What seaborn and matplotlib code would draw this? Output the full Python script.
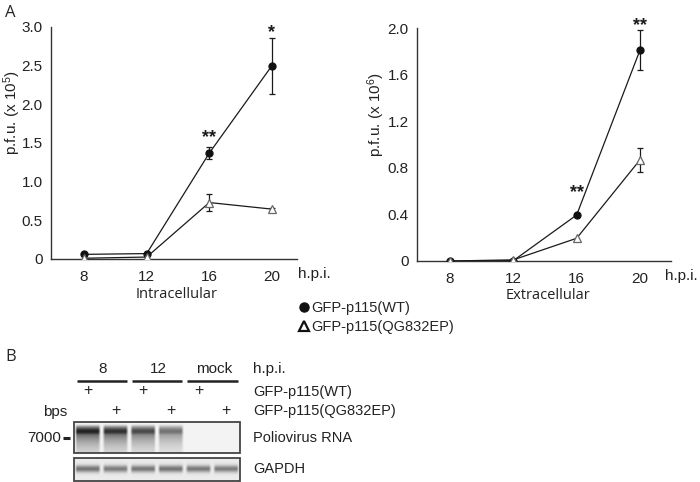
import numpy as np
import pandas as pd
import matplotlib
matplotlib.use("Agg")
import matplotlib.pyplot as plt
from matplotlib.lines import Line2D
from matplotlib.patches import Rectangle
from matplotlib import font_manager
import seaborn as sns

# ---------------- data ----------------
hpi = [8, 12, 16, 20]
hpi_ticks = ["8", "12", "16", "20"]

intra_wt = [0.06, 0.07, 1.37, 2.50]
intra_wt_err = [0.0, 0.0, 0.075, 0.36]
intra_qg = [0.01, 0.025, 0.73, 0.645]
intra_qg_err = [0.0, 0.0, 0.115, 0.02]
intra_stars = [(16, "**", 1.65), (20, "*", 3.01)]
intra_yticks = [0, 0.5, 1.0, 1.5, 2.0, 2.5, 3.0]
intra_yticklabels = ["0", "0.5", "1.0", "1.5", "2.0", "2.5", "3.0"]

extra_wt = [0.0, 0.003, 0.395, 1.81]
extra_wt_err = [0.0, 0.0, 0.0, 0.17]
extra_qg = [0.0, 0.01, 0.195, 0.868]
extra_qg_err = [0.0, 0.0, 0.0, 0.10]
extra_stars = [(16, "**", 0.64), (20, "**", 2.07)]
extra_yticks = [0, 0.4, 0.8, 1.2, 1.6, 2.0]
extra_yticklabels = ["0", "0.4", "0.8", "1.2", "1.6", "2.0"]

series_labels = ["GFP-p115(WT)", "GFP-p115(QG832EP)"]

# panel B
group_labels = ["8", "12", "mock"]
wt_plus = [1, 0, 1, 0, 1, 0]
qg_plus = [0, 1, 0, 1, 0, 1]
polio_signal = [0.82, 0.76, 0.66, 0.50, 0.0, 0.0]
gapdh_signal = [0.80, 0.74, 0.78, 0.80, 0.76, 0.74]
row_labels = ["GFP-p115(WT)", "GFP-p115(QG832EP)"]
blot_labels = ["Poliovirus RNA", "GAPDH"]
marker_label = "7000"

# ---------------- style ----------------
sns.set_style("white")
plt.rcParams["font.family"] = ["Liberation Sans", "DejaVu Sans"]
plt.rcParams["mathtext.default"] = "regular"
names = {f.name for f in font_manager.fontManager.ttflist}
NARROW = ["Liberation Sans Narrow", "DejaVu Sans"] if "Liberation Sans Narrow" in names else ["Liberation Sans", "DejaVu Sans"]
MYR = ["Open Sans", "DejaVu Sans"]

W, H = 700, 482
fig = plt.figure(figsize=(7, 4.82), dpi=100)


def px_axes(x0, y0, x1, y1):
    return fig.add_axes([x0 / W, 1 - y1 / H, (x1 - x0) / W, (y1 - y0) / H])


def growth_panel(ax, wt, wt_err, qg, qg_err, stars, yticks, yticklabels, ylim,
                 xlim, ylabel, xlabel, ylab_xy, xlab_xy, hpi_x):
    df_wt = pd.DataFrame({"hpi": hpi, "v": wt})
    df_qg = pd.DataFrame({"hpi": hpi, "v": qg})
    for vals, errs in ((wt, wt_err), (qg, qg_err)):
        xs = [h for h, e in zip(hpi, errs) if e > 0]
        ys = [v for v, e in zip(vals, errs) if e > 0]
        es = [e for e in errs if e > 0]
        if xs:
            ax.errorbar(xs, ys, yerr=es, fmt="none", ecolor="#1a1a1a",
                        elinewidth=0.9, capsize=2.2, capthick=0.9, zorder=2)
    sns.lineplot(data=df_wt, x="hpi", y="v", ax=ax, color="#1a1a1a", lw=0.9,
                 marker="o", markersize=5.2, markerfacecolor="#111111",
                 markeredgecolor="#111111", zorder=3)
    sns.lineplot(data=df_qg, x="hpi", y="v", ax=ax, color="#1a1a1a", lw=0.9,
                 marker="^", markersize=5.2, markerfacecolor="white",
                 markeredgecolor="#666666", markeredgewidth=0.9, zorder=4)
    for x, s, y in stars:
        ax.annotate(s, (x, y), xytext=(0, -7.5), textcoords="offset points",
                    ha="center", va="baseline", fontsize=13, fontweight="bold",
                    color="#1a1a1a", annotation_clip=False)
    ax.set_xlim(*xlim)
    ax.set_ylim(*ylim)
    ax.set_xticks(hpi)
    ax.set_xticklabels(hpi_ticks)
    ax.set_yticks(yticks)
    ax.set_yticklabels(yticklabels)
    for sp in ("top", "right"):
        ax.spines[sp].set_visible(False)
    for sp in ("left", "bottom"):
        ax.spines[sp].set_color("#333333")
        ax.spines[sp].set_linewidth(1.0)
    ax.tick_params(axis="y", direction="out", length=3, width=0.9,
                   colors="#333333", labelcolor="#222222", labelsize=11, pad=3)
    ax.tick_params(axis="x", length=0, labelsize=11, labelcolor="#222222", pad=8)
    ax.set_ylabel(ylabel, fontsize=11, color="#222222")
    ax.yaxis.set_label_coords(*ylab_xy)
    ax.set_xlabel(xlabel, fontsize=10.5, family=MYR, color="#222222", va="center")
    ax.xaxis.set_label_coords(*xlab_xy)
    ax.text(hpi_x, -0.035, "h.p.i.", transform=ax.transAxes, fontsize=11,
            color="#222222", ha="left", va="top")


# left panel (x 51..297, y 27..259)
axL = px_axes(51, 27, 297, 259)
growth_panel(axL, intra_wt, intra_wt_err, intra_qg, intra_qg_err, intra_stars,
             intra_yticks, intra_yticklabels, (0, 3.0), (5.89, 21.6),
             "p.f.u. (x 10$^{5}$)", "Intracellular", (-0.115, 0.63), (0.512, -0.155),
             1.005)

# right panel (x 417..671, y 28..261)
axR = px_axes(417, 28, 671, 261)
growth_panel(axR, extra_wt, extra_wt_err, extra_qg, extra_qg_err, extra_stars,
             extra_yticks, extra_yticklabels, (0, 2.0), (5.915, 21.96),
             "p.f.u. (x 10$^{6}$)", "Extracellular", (-0.118, 0.627), (0.516, -0.146),
             0.975)

# legend
handles = [Line2D([], [], ls="", marker="o", color="#111111", markersize=6.5),
           Line2D([], [], ls="", marker="^", markerfacecolor="white",
                  markeredgecolor="#111111", markeredgewidth=1.6, markersize=7)]
fig.legend(handles, series_labels, loc="upper left",
           bbox_to_anchor=(299 / W, 1 - 301 / H), frameon=False, fontsize=10.5,
           handlelength=0.7, handletextpad=0.15, labelspacing=0.35,
           borderpad=0, borderaxespad=0)

# panel labels
fig.text(5 / W, 1 - 13 / H, "A", family=MYR, fontsize=12, va="center", ha="left")
fig.text(5 / W, 1 - 357 / H, "B", family=MYR, fontsize=12, va="center", ha="left")

# ---------------- panel B ----------------
axB = px_axes(74, 350, 240, 482)
axB.set_xlim(0.5, 6.5)
axB.set_ylim(482, 350)
axB.axis("off")
lane_px = (240 - 74) / 6.0
xr = 6.5 + 13 / lane_px
tc = "#222222"

for g, lab in enumerate(group_labels):
    axB.text(2 * g + 1.55, 369, lab, ha="center", va="center", fontsize=11,
             family=NARROW, color=tc)
    axB.plot([2 * g + 0.6, 2 * g + 2.42], [381, 381], color="#222222", lw=1.8,
             solid_capstyle="butt", clip_on=False)
axB.text(xr, 369, "h.p.i.", ha="left", va="center", fontsize=11, family=NARROW, color=tc)

lanes = np.arange(1, 7)
for ln, p in zip(lanes, wt_plus):
    if p:
        axB.text(ln, 391, "+", ha="center", va="center", fontsize=11.5, family=NARROW, color=tc)
for ln, p in zip(lanes, qg_plus):
    if p:
        axB.text(ln, 411, "+", ha="center", va="center", fontsize=11.5, family=NARROW, color=tc)
axB.text(xr, 392, row_labels[0], ha="left", va="center", fontsize=10.5, family=NARROW, color=tc)
axB.text(xr, 411, row_labels[1], ha="left", va="center", fontsize=10.5, family=NARROW, color=tc)
axB.text(0.5 + (55 - 74) / lane_px, 412, "bps", ha="center", va="center", fontsize=11,
         family=NARROW, color=tc)

# blot images built from lane signals
cols = 28
u = (np.arange(cols) + 0.5) / cols
lane_w = np.clip((0.5 - np.abs(u - 0.5) - 0.03) / 0.09, 0, 1)

rows_p = 64
t = (np.arange(rows_p) + 0.5) / rows_p
band = np.exp(-((t - 0.3) / 0.17) ** 2)
smear = np.where(t > 0.3, 0.85 * np.exp(-(t - 0.3) / 0.4), 0)
prof_p = np.maximum(band, smear) * np.clip((t - 0.04) / 0.1, 0, 1)
img_p = np.hstack([0.95 - s * np.outer(prof_p, lane_w) for s in polio_signal])
axB.imshow(img_p, cmap="gray", vmin=0, vmax=1, extent=(0.5, 6.5, 453, 422),
           origin="upper", aspect="auto", interpolation="bilinear", zorder=1)
axB.add_patch(Rectangle((0.5, 422), 6, 31, fill=False, edgecolor="#444444",
                        lw=1.3, zorder=3, clip_on=False))

rows_g = 32
tg = (np.arange(rows_g) + 0.5) / rows_g
prof_g = np.exp(-((tg - 0.47) / 0.15) ** 2)
img_g = np.hstack([0.92 - 0.58 * s * np.outer(prof_g, lane_w) for s in gapdh_signal])
axB.imshow(img_g, cmap="gray", vmin=0, vmax=1, extent=(0.5, 6.5, 481, 458),
           origin="upper", aspect="auto", interpolation="bilinear", zorder=1)
axB.add_patch(Rectangle((0.5, 458), 6, 23, fill=False, edgecolor="#444444",
                        lw=1.3, zorder=3, clip_on=False))

axB.text(0.5 + (61 - 74) / lane_px, 438, marker_label, ha="right", va="center",
         fontsize=11, family=NARROW, color=tc)
axB.plot([0.5 + (63 - 74) / lane_px, 0.5 + (70 - 74) / lane_px], [438, 438],
         color="#222222", lw=2.2, solid_capstyle="butt", clip_on=False)
axB.text(xr, 438, blot_labels[0], ha="left", va="center", fontsize=10.5, family=NARROW, color=tc)
axB.text(xr, 469, blot_labels[1], ha="left", va="center", fontsize=10.5, family=NARROW, color=tc)
axB.set_xlim(0.5, 6.5)
axB.set_ylim(482, 350)

fig.savefig("out.png", dpi=100)
